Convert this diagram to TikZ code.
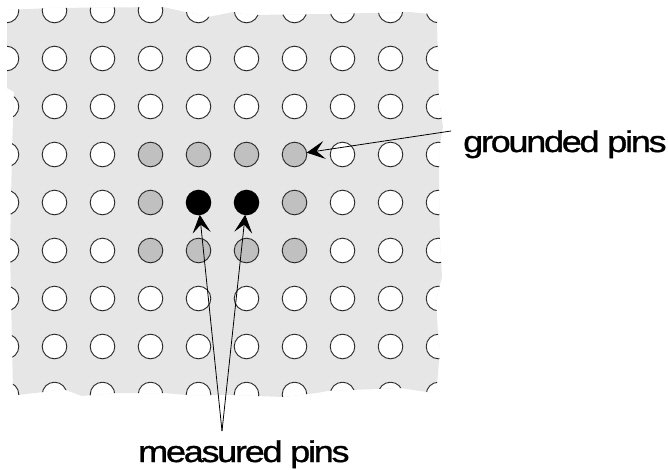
\documentclass[tikz,border=0pt]{standalone}
\usepackage{fontspec}
\setmainfont{Liberation Sans}[FakeStretch=1.2,LetterSpace=-7.5,FakeBold=1]
\usetikzlibrary{arrows.meta}
\definecolor{boardgrey}{HTML}{E6E6E6}
\definecolor{gndgrey}{HTML}{C0C0C0}
\tikzset{
  pin/.style={circle,draw=black!85,fill=white,line width=0.9pt,minimum size=24.6pt,inner sep=0pt,outer sep=0pt},
  gnd/.style={pin,fill=gndgrey},
  meas/.style={pin,fill=black,draw=black},
  lbl/.style={font=\fontsize{30}{30}\selectfont,inner sep=0pt,anchor=base west},
  ptr/.style={line width=0.8pt,-{Stealth[length=18pt,width=18pt,inset=8pt]}},
}
\begin{document}
\begin{tikzpicture}[x=1pt,y=-1pt]
\useasboundingbox (0,0) rectangle (668,469);
\def\boardpath{(7,10) -- (50,8) -- (163,7) -- (208,17) -- (233,12) -- (250,15) -- (330,14) -- (410,12) -- (430,14) -- (437,22) -- (439,100) -- (443,127) -- (439,150) -- (439,193) -- (440,240) -- (442,277) -- (436,300) -- (438,333) -- (440,350) -- (437,385) -- (434,392) -- (427,392) -- (400,388) -- (327,391) -- (317,393) -- (283,397) -- (233,395) -- (187,395) -- (163,393) -- (115,393) -- (82,396) -- (63,389) -- (43,392) -- (18,395) -- (13,390) -- (10,250) -- (12,150) -- (14,92) -- (7,88) -- cycle}
\fill[boardgrey] \boardpath;
\begin{scope}
\clip \boardpath;
\foreach \i in {0,...,9}{
  \foreach \j in {0,...,8}{
    \pgfmathtruncatemacro{\isg}{(\i>=3 && \i<=6 && \j>=3 && \j<=5) ? 1 : 0}
    \pgfmathtruncatemacro{\ism}{((\i==4 || \i==5) && \j==4) ? 1 : 0}
    \ifnum\ism=1
      \node[meas] (p-\i-\j) at ({6.5+48*\i},{10.5+48*\j}) {};
    \else\ifnum\isg=1
      \node[gnd] (p-\i-\j) at ({6.5+48*\i},{10.5+48*\j}) {};
    \else
      \node[pin] (p-\i-\j) at ({6.5+48*\i},{10.5+48*\j}) {};
    \fi\fi
  }
}
\end{scope}
\node[lbl] (gt) at (463,152) {grounded pins};
\node[lbl] (mt) at (138,462) {measured pins};
\coordinate (gs) at (451,131);
\coordinate (ms) at (222,431);
\draw[ptr] (gs) -- (p-6-3);
\draw[ptr] (ms) -- (p-4-4);
\draw[ptr] (ms) -- (p-5-4);
\end{tikzpicture}
\end{document}
